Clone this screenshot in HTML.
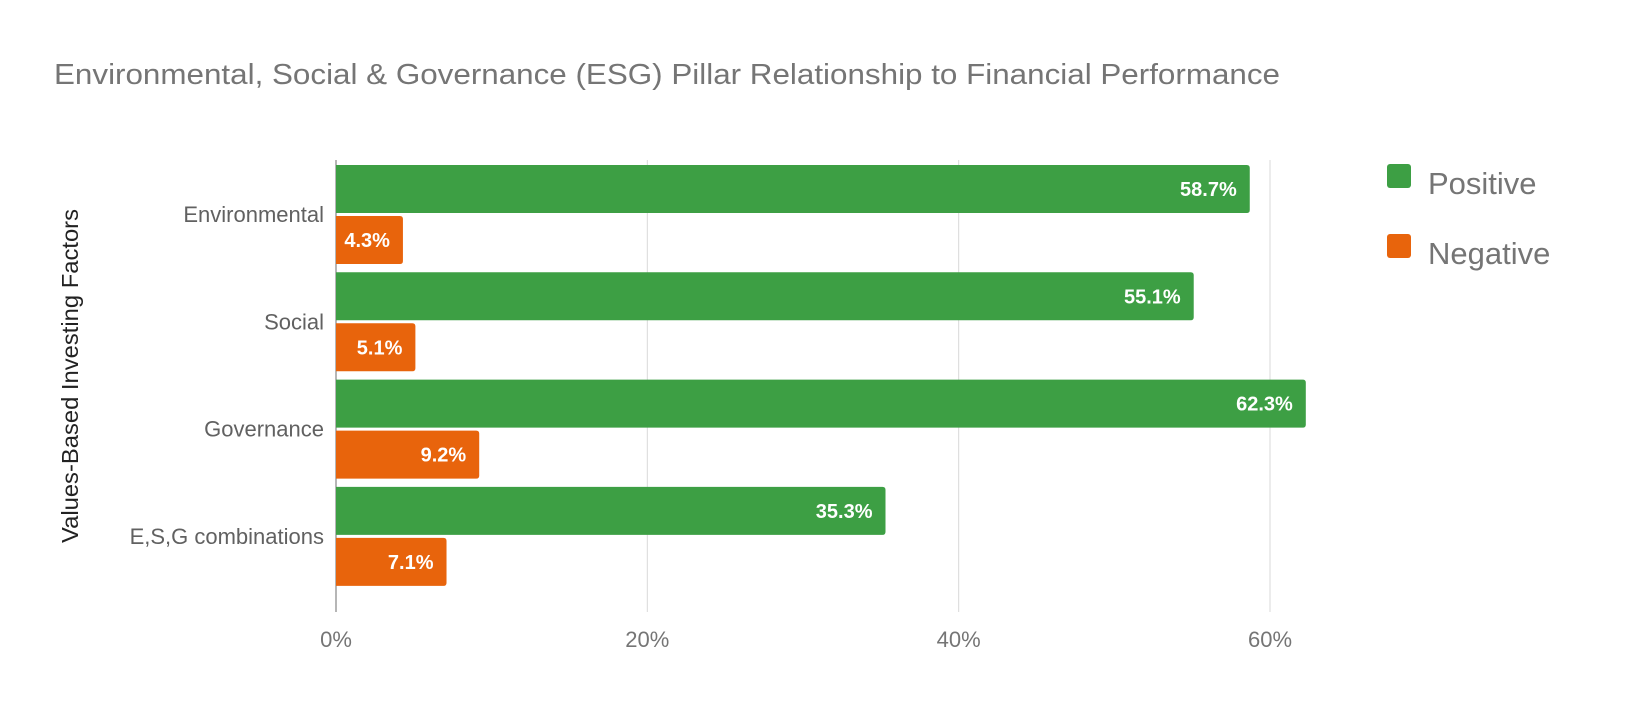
<!DOCTYPE html>
<html><head><meta charset="utf-8">
<style>
html,body{margin:0;padding:0;background:#fff;}
svg{display:block;font-family:"Liberation Sans",Arial,sans-serif;}
</style></head>
<body>
<svg id="chart" width="1634" height="724" viewBox="0 0 1634 724">
  <rect x="0" y="0" width="1634" height="724" fill="#fff"/>
  <text x="54" y="84" font-size="29" fill="#757575" textLength="1226" lengthAdjust="spacingAndGlyphs">Environmental, Social &amp; Governance (ESG) Pillar Relationship to Financial Performance</text>
  <text transform="translate(78,376) rotate(-90)" text-anchor="middle" font-size="23" fill="#222" textLength="334" lengthAdjust="spacingAndGlyphs">Values-Based Investing Factors</text>
  <g id="grid"></g>
  <g id="bars"></g>
  <g id="labels"></g>
  <g>
    <rect x="1387" y="164" width="24" height="24" rx="3" fill="#3d9f44"/>
    <text x="1428" y="194" font-size="31" fill="#757575">Positive</text>
    <rect x="1387" y="234" width="24" height="24" rx="3" fill="#e8640c"/>
    <text x="1428" y="264" font-size="31" fill="#757575">Negative</text>
  </g>
</svg>
<script>
const categories = ["Environmental", "Social", "Governance", "E,S,G combinations"];
const positiveValues = [58.7, 55.1, 62.3, 35.3];
const negativeValues = [4.3, 5.1, 9.2, 7.1];
const tickValues = [0, 20, 40, 60];
const tickLabels = ["0%", "20%", "40%", "60%"];

const NS = "http://www.w3.org/2000/svg";
const x0 = 336, pxPerUnit = (1270 - 336) / 60;
const plotTop = 160, plotBottom = 612, bandH = 107.3, barH = 48, barGap = 3, firstTop = 165;
function xScale(v){ return x0 + v * pxPerUnit; }
function bandY(i){ return firstTop + i * bandH; }
function mk(tag, attrs){ const e = document.createElementNS(NS, tag); for (const k in attrs) e.setAttribute(k, attrs[k]); return e; }

const grid = document.getElementById("grid");
tickValues.forEach((t, i) => {
  const x = xScale(t);
  const line = mk("line", {x1:x, x2:x, y1:plotTop, y2:plotBottom, stroke: t === 0 ? "#9e9e9e" : "#d9d9d9", "stroke-width": t === 0 ? 1.5 : 1});
  
  
  grid.appendChild(line);
  const lbl = mk("text", {x:x, y:647, "text-anchor":"middle", "font-size":22, fill:"#757575"});
  lbl.textContent = tickLabels[i];
  
  
  grid.appendChild(lbl);
});

const bars = document.getElementById("bars");
const labels = document.getElementById("labels");
function drawBar(v, y, color, name){
  const w = xScale(v) - x0;
  const r = mk("path", {d:`M${x0},${y} H${x0+w-3} Q${x0+w},${y} ${x0+w},${y+3} V${y+barH-3} Q${x0+w},${y+barH} ${x0+w-3},${y+barH} H${x0} Z`, fill:color});
  
  
  bars.appendChild(r);
  const t = mk("text", {x:x0 + w - 13, y:y + barH/2 + 7, "text-anchor":"end", "font-size":20, "font-weight":"bold", fill:"#fff"});
  t.textContent = v.toFixed(1) + "%";
  
  
  bars.appendChild(t);
}
categories.forEach((c, i) => {
  const y = bandY(i);
  drawBar(positiveValues[i], y, "#3d9f44", "bar-positive");
  drawBar(negativeValues[i], y + barH + barGap, "#e8640c", "bar-negative");
  const t = mk("text", {x:324, y:y + barH + 9, "text-anchor":"end", "font-size":22, fill:"#616161"});
  t.textContent = c;
  
  
  labels.appendChild(t);
});
</script>
</body></html>
